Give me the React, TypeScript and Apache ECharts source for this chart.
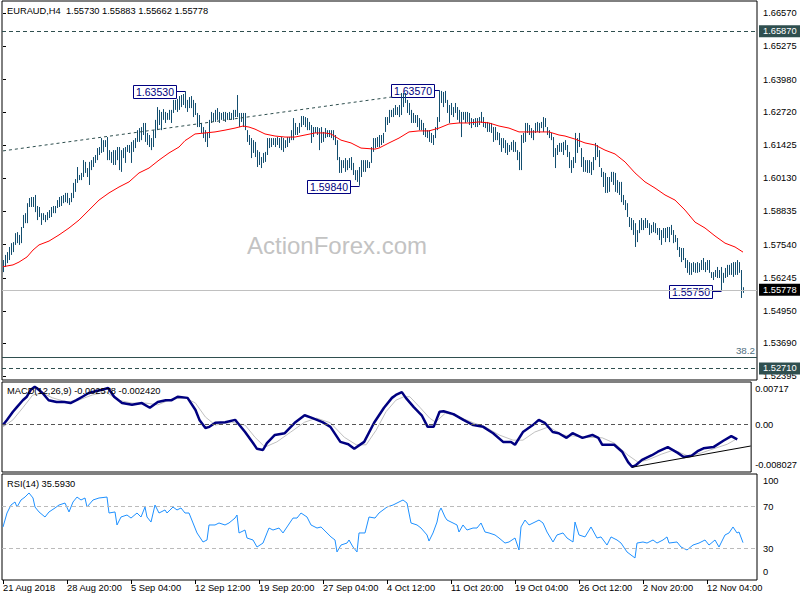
import React, { useEffect, useRef } from 'react';
import * as echarts from 'echarts';

// ---- Price bars (H4 EURAUD), high / low per bar ----
const HIGH = [
1.5694,1.5714,1.5725,1.5745,1.5760,1.5764,1.5799,1.5803,1.5792,1.5823,
1.5870,1.5877,1.5916,1.5936,1.5940,1.5940,1.5948,1.5905,1.5901,1.5877,
1.5877,1.5870,1.5881,1.5889,1.5901,1.5905,1.5905,1.5928,1.5940,1.5944,
1.5948,1.5956,1.5956,1.5936,1.5956,1.5995,1.6010,1.6057,1.6026,1.6034,
1.6084,1.6077,1.6053,1.6077,1.6084,1.6096,1.6104,1.6131,1.6135,1.6170,
1.6162,1.6162,1.6174,1.6123,1.6116,1.6123,1.6123,1.6135,1.6135,1.6123,
1.6131,1.6135,1.6143,1.6143,1.6155,1.6162,1.6170,1.6201,1.6209,1.6213,
1.6229,1.6229,1.6190,1.6182,1.6170,1.6201,1.6241,1.6291,1.6280,1.6272,
1.6283,1.6272,1.6268,1.6280,1.6280,1.6319,1.6319,1.6323,1.6334,1.6338,
1.6342,1.6353,1.6319,1.6330,1.6334,1.6319,1.6307,1.6268,1.6260,1.6229,
1.6213,1.6201,1.6190,1.6241,1.6272,1.6268,1.6280,1.6287,1.6272,1.6268,
1.6272,1.6272,1.6268,1.6272,1.6268,1.6280,1.6280,1.6338,1.6268,1.6268,
1.6268,1.6268,1.6201,1.6182,1.6170,1.6162,1.6155,1.6123,1.6116,1.6096,
1.6112,1.6116,1.6170,1.6170,1.6170,1.6170,1.6170,1.6174,1.6170,1.6174,
1.6170,1.6162,1.6174,1.6174,1.6201,1.6248,1.6229,1.6213,1.6229,1.6256,
1.6256,1.6252,1.6248,1.6233,1.6221,1.6213,1.6213,1.6213,1.6209,1.6213,
1.6194,1.6209,1.6201,1.6201,1.6201,1.6201,1.6182,1.6162,1.6096,1.6084,
1.6084,1.6092,1.6084,1.6092,1.6096,1.6073,1.6045,1.6045,1.6057,1.6084,
1.6084,1.6084,1.6084,1.6077,1.6135,1.6170,1.6170,1.6174,1.6182,1.6182,
1.6190,1.6252,1.6252,1.6280,1.6280,1.6287,1.6299,1.6291,1.6299,1.6346,
1.6346,1.6346,1.6319,1.6307,1.6280,1.6268,1.6260,1.6260,1.6248,1.6241,
1.6229,1.6209,1.6201,1.6201,1.6190,1.6182,1.6213,1.6252,1.6357,1.6354,
1.6350,1.6354,1.6319,1.6299,1.6307,1.6291,1.6307,1.6291,1.6280,1.6272,
1.6272,1.6272,1.6272,1.6268,1.6248,1.6244,1.6248,1.6248,1.6252,1.6272,
1.6252,1.6233,1.6233,1.6229,1.6229,1.6213,1.6213,1.6194,1.6190,1.6170,
1.6170,1.6162,1.6151,1.6143,1.6155,1.6162,1.6155,1.6123,1.6116,1.6182,
1.6190,1.6229,1.6229,1.6221,1.6209,1.6201,1.6229,1.6233,1.6229,1.6233,
1.6252,1.6248,1.6213,1.6201,1.6190,1.6174,1.6131,1.6143,1.6151,1.6151,
1.6155,1.6162,1.6143,1.6116,1.6084,1.6096,1.6190,1.6170,1.6190,1.6131,
1.6096,1.6084,1.6084,1.6084,1.6077,1.6096,1.6151,1.6143,1.6123,1.6053,
1.6038,1.6034,1.6018,1.6018,1.6038,1.6038,1.6034,1.6006,1.5999,1.5999,
1.5948,1.5928,1.5916,1.5862,1.5858,1.5850,1.5838,1.5811,1.5850,1.5858,
1.5850,1.5858,1.5850,1.5838,1.5831,1.5842,1.5838,1.5819,1.5819,1.5811,
1.5819,1.5819,1.5823,1.5823,1.5831,1.5811,1.5792,1.5780,1.5745,1.5741,
1.5741,1.5702,1.5694,1.5686,1.5682,1.5686,1.5682,1.5686,1.5682,1.5694,
1.5702,1.5686,1.5694,1.5694,1.5647,1.5647,1.5655,1.5667,1.5655,1.5667,
1.5644,1.5663,1.5675,1.5675,1.5682,1.5686,1.5686,1.5694,1.5686,1.5655,
1.5588
];
const LOW = [
1.5647,1.5667,1.5682,1.5694,1.5714,1.5725,1.5753,1.5760,1.5753,1.5760,
1.5819,1.5838,1.5838,1.5901,1.5901,1.5901,1.5881,1.5850,1.5862,1.5831,
1.5850,1.5842,1.5850,1.5858,1.5862,1.5877,1.5877,1.5897,1.5901,1.5905,
1.5916,1.5920,1.5916,1.5909,1.5920,1.5936,1.5960,1.5995,1.6006,1.6006,
1.6018,1.6034,1.6018,1.5987,1.6045,1.6057,1.6073,1.6084,1.6104,1.6112,
1.6116,1.6135,1.6084,1.6084,1.6073,1.6065,1.6065,1.6084,1.6045,1.6038,
1.6092,1.6073,1.6116,1.6112,1.6073,1.6116,1.6131,1.6155,1.6155,1.6162,
1.6182,1.6155,1.6143,1.6135,1.6123,1.6135,1.6170,1.6201,1.6221,1.6201,
1.6241,1.6229,1.6241,1.6241,1.6229,1.6268,1.6280,1.6272,1.6280,1.6291,
1.6299,1.6287,1.6272,1.6287,1.6287,1.6252,1.6260,1.6213,1.6213,1.6190,
1.6170,1.6155,1.6135,1.6170,1.6229,1.6233,1.6233,1.6241,1.6229,1.6241,
1.6241,1.6233,1.6241,1.6241,1.6241,1.6241,1.6252,1.6252,1.6213,1.6233,
1.6213,1.6201,1.6155,1.6143,1.6092,1.6112,1.6096,1.6057,1.6065,1.6053,
1.6073,1.6077,1.6104,1.6131,1.6135,1.6143,1.6135,1.6143,1.6131,1.6123,
1.6116,1.6131,1.6135,1.6151,1.6162,1.6162,1.6182,1.6182,1.6190,1.6213,
1.6221,1.6213,1.6201,1.6201,1.6151,1.6174,1.6190,1.6182,1.6123,1.6151,
1.6155,1.6170,1.6174,1.6174,1.6170,1.6162,1.6143,1.6084,1.6034,1.6034,
1.6053,1.6038,1.6045,1.6053,1.6045,1.6026,1.6006,1.5999,1.5984,1.6018,
1.6038,1.6038,1.6053,1.6053,1.6073,1.6116,1.6131,1.6135,1.6135,1.6143,
1.6151,1.6194,1.6221,1.6229,1.6252,1.6252,1.6260,1.6260,1.6252,1.6260,
1.6291,1.6307,1.6268,1.6260,1.6229,1.6229,1.6229,1.6213,1.6201,1.6201,
1.6182,1.6174,1.6170,1.6155,1.6151,1.6143,1.6170,1.6201,1.6233,1.6307,
1.6291,1.6307,1.6268,1.6229,1.6260,1.6252,1.6268,1.6241,1.6229,1.6174,
1.6241,1.6229,1.6233,1.6221,1.6209,1.6221,1.6213,1.6213,1.6221,1.6229,
1.6213,1.6209,1.6194,1.6194,1.6190,1.6155,1.6162,1.6162,1.6143,1.6116,
1.6131,1.6112,1.6104,1.6116,1.6123,1.6116,1.6116,1.6084,1.6045,1.6045,
1.6151,1.6155,1.6190,1.6182,1.6170,1.6162,1.6190,1.6194,1.6190,1.6209,
1.6194,1.6213,1.6182,1.6170,1.6162,1.6096,1.6053,1.6104,1.6116,1.6116,
1.6104,1.6123,1.6096,1.6053,1.6034,1.6053,1.6073,1.6112,1.6135,1.6057,
1.6038,1.6038,1.6034,1.6034,1.6026,1.6045,1.6084,1.6096,1.6057,1.6018,
1.5979,1.5956,1.5956,1.5960,1.5999,1.5987,1.5960,1.5956,1.5948,1.5920,
1.5909,1.5889,1.5862,1.5823,1.5811,1.5792,1.5745,1.5764,1.5799,1.5811,
1.5811,1.5819,1.5819,1.5792,1.5799,1.5803,1.5799,1.5792,1.5772,1.5753,
1.5780,1.5764,1.5780,1.5764,1.5792,1.5760,1.5764,1.5733,1.5706,1.5686,
1.5694,1.5663,1.5644,1.5636,1.5636,1.5647,1.5644,1.5644,1.5647,1.5655,
1.5655,1.5647,1.5655,1.5644,1.5624,1.5616,1.5628,1.5624,1.5624,1.5575,
1.5605,1.5624,1.5628,1.5636,1.5636,1.5628,1.5636,1.5636,1.5644,1.5546,
1.5566
];

// ---- Moving average (red), sampled [bar index, price] ----
const MA_POINTS = [
[0,1.5668],[5,1.5675],[8,1.5686],[12,1.5706],[15,1.5733],[18,1.5753],[23,1.5768],[28,1.5792],
[33,1.5819],[38,1.5850],[43,1.5889],[48,1.5928],[53,1.5956],[58,1.5979],[63,1.5999],[68,1.6034],
[73,1.6053],[78,1.6084],[83,1.6112],[88,1.6135],[91,1.6160],[93,1.6170],[96,1.6186],[101,1.6190],
[106,1.6194],[111,1.6201],[116,1.6209],[120,1.6217],[123,1.6213],[126,1.6205],[131,1.6186],[136,1.6178],
[141,1.6174],[146,1.6174],[151,1.6182],[156,1.6190],[161,1.6190],[164,1.6186],[169,1.6162],[174,1.6151],
[179,1.6131],[186,1.6127],[188,1.6131],[193,1.6151],[198,1.6170],[203,1.6194],[208,1.6198],[213,1.6198],
[218,1.6209],[223,1.6225],[228,1.6229],[233,1.6229],[238,1.6233],[243,1.6229],[248,1.6217],[253,1.6209],
[258,1.6194],[263,1.6194],[268,1.6194],[273,1.6194],[278,1.6182],[281,1.6178],[286,1.6166],[291,1.6151],
[296,1.6143],[301,1.6123],[306,1.6108],[311,1.6077],[316,1.6034],[321,1.5999],[326,1.5975],[331,1.5948],
[336,1.5928],[341,1.5889],[346,1.5842],[351,1.5819],[356,1.5788],[361,1.5760],[366,1.5745],[370,1.5725]
];

// ---- MACD(12,26,9): main and signal, sampled [bar index, value] ----
const MACD_MAIN = [
[0,-0.0001],[2,0.0008],[5,0.0022],[7,0.0030],[10,0.0042],[12,0.0048],[14,0.0060],[16,0.0065],[17,0.0063],
[20,0.0054],[23,0.0042],[27,0.0039],[31,0.0039],[34,0.0037],[37,0.0042],[40,0.0048],[43,0.0054],[47,0.0058],
[50,0.0060],[53,0.0063],[56,0.0048],[60,0.0037],[65,0.0034],[70,0.0037],[74,0.0029],[78,0.0039],[82,0.0042],
[85,0.0042],[88,0.0048],[93,0.0046],[97,0.0025],[99,0.0008],[102,-0.0006],[104,-0.0004],[107,0.0003],[112,0.0004],
[117,0.0008],[118,0.0004],[122,-0.0013],[126,-0.0032],[128,-0.0042],[131,-0.0044],[133,-0.0032],[137,-0.0018],
[142,-0.0015],[147,0.0003],[152,0.0016],[156,0.0011],[161,0.0004],[165,-0.0004],[170,-0.0030],[174,-0.0034],
[177,-0.0042],[182,-0.0030],[187,0.0003],[192,0.0029],[196,0.0046],[198,0.0051],[201,0.0056],[203,0.0046],
[207,0.0030],[211,0.0016],[214,-0.0004],[217,-0.0004],[220,0.0022],[222,0.0023],[227,0.0018],[232,0.0008],
[237,-0.0001],[242,-0.0004],[247,-0.0015],[252,-0.0030],[256,-0.0030],[258,-0.0035],[262,-0.0013],[267,-0.0001],
[270,0.0008],[273,0.0003],[277,-0.0013],[280,-0.0015],[284,-0.0023],[287,-0.0015],[292,-0.0023],[297,-0.0018],
[300,-0.0023],[302,-0.0035],[308,-0.0035],[312,-0.0047],[315,-0.0065],[317,-0.0073],[319,-0.0070],[322,-0.0061],
[327,-0.0053],[330,-0.0047],[335,-0.0039],[340,-0.0049],[343,-0.0056],[347,-0.0054],[350,-0.0046],[353,-0.0041],
[358,-0.0039],[363,-0.0028],[367,-0.0020],[370,-0.002578]
];
const MACD_SIGNAL = [
[0,-0.0004],[5,0.0008],[10,0.0029],[15,0.0051],[20,0.0054],[25,0.0046],[32,0.0039],[38,0.0042],[45,0.0051],
[52,0.0056],[58,0.0042],[65,0.0037],[72,0.0037],[78,0.0034],[85,0.0044],[92,0.0046],[97,0.0037],[102,0.0013],
[107,-0.0001],[115,0.0004],[122,-0.0001],[127,-0.0022],[132,-0.0039],[138,-0.0030],[145,-0.0013],[152,0.0004],
[158,0.0011],[165,0.0003],[172,-0.0022],[178,-0.0035],[183,-0.0035],[188,-0.0010],[193,0.0022],[198,0.0042],
[202,0.0048],[205,0.0048],[210,0.0030],[215,0.0011],[218,0.0004],[223,0.0020],[230,0.0013],[237,0.0003],
[243,-0.0004],[250,-0.0018],[257,-0.0027],[262,-0.0027],[268,-0.0013],[275,-0.0004],[282,-0.0018],[288,-0.0020],
[295,-0.0022],[302,-0.0023],[308,-0.0032],[315,-0.0053],[320,-0.0065],[325,-0.0061],[332,-0.0051],[338,-0.0044],
[345,-0.0054],[352,-0.0049],[358,-0.0042],[365,-0.0034],[370,-0.00242]
];

// ---- RSI(14), sampled [bar index, value] ----
const RSI_POINTS = [
[0,50.5],[2,63.8],[4,71.4],[6,74.3],[7,69.5],[9,76.2],[11,79],[13,82.9],[15,78.1],[16,69.5],[18,64.8],[21,60],
[23,64.8],[26,68.6],[28,71.4],[31,73.3],[33,64.8],[35,74.3],[37,79],[39,76.2],[41,78.1],[42,69.5],[45,76.2],
[48,78.1],[52,79],[53,63.8],[56,64.8],[57,52.4],[59,60],[62,61.9],[64,59],[67,63.8],[69,60],[71,69.5],[72,60],
[74,55.2],[76,71.4],[78,63.8],[81,66.7],[82,63.8],[85,69.5],[87,66.7],[89,68.6],[91,63.8],[93,63.8],[95,54.3],
[97,44.8],[100,36.2],[102,38.1],[103,52.4],[106,52.4],[108,54.3],[111,52.4],[113,54.3],[116,59],[117,61.9],
[118,44.8],[121,47.6],[122,40],[125,38.1],[127,31.4],[130,35.2],[132,44.8],[133,49.5],[135,47.6],[138,49.5],
[140,44.8],[142,50.5],[145,59],[147,59],[149,63.8],[152,60],[154,52.4],[157,49.5],[159,50.5],[162,44.8],[164,41],
[166,38.1],[167,26.7],[169,33.3],[172,35.2],[173,38.1],[175,31.4],[177,26.7],[178,44.8],[181,44.8],[183,60],
[186,59],[188,63.8],[192,69.5],[195,71.4],[198,74.3],[200,76.2],[202,73.3],[204,54.3],[207,52.4],[209,49.5],
[212,42.9],[213,37.1],[215,44.8],[217,55.2],[218,64.8],[219,68.6],[221,60],[222,57.1],[225,54.3],[227,52.4],
[228,45.7],[230,52.4],[232,47.6],[235,49.5],[237,49.5],[239,54.3],[241,45.7],[243,44.8],[246,42.9],[248,40],
[251,35.2],[253,36.2],[256,40],[258,28.6],[259,50.5],[261,57.1],[263,52.4],[266,55.2],[268,57.1],[270,54.3],
[272,45.7],[275,36.2],[277,42.9],[280,44.8],[282,40],[285,36.2],[286,55.2],[288,42.9],[291,41],[294,50.5],
[297,40],[299,41],[302,33.3],[304,41],[307,38.1],[309,35.2],[312,26.7],[314,23.8],[316,21],[317,35.2],[320,36.2],
[322,35.2],[325,38.1],[327,35.2],[330,38.1],[332,41],[333,35.2],[337,36.2],[339,31.4],[342,28.6],[345,33.3],
[348,35.2],[351,38.1],[353,33.3],[356,38.1],[358,31.4],[361,42.9],[363,44.8],[365,50.5],[367,44.8],[368,45.7],
[370,35.593]
];

// ---- Axes ----
const X_TICKS = [0, 32, 64, 96, 128, 160, 192, 224, 256, 288, 320, 352];
const X_LABELS = ['21 Aug 2018', '28 Aug 20:00', '5 Sep 04:00', '12 Sep 12:00', '19 Sep 20:00', '27 Sep 04:00',
  '4 Oct 12:00', '11 Oct 20:00', '19 Oct 04:00', '26 Oct 12:00', '2 Nov 20:00', '12 Nov 04:00'];
const PRICE_TICKS = [1.66570, 1.65275, 1.63980, 1.62720, 1.61425, 1.60130, 1.58835, 1.57540, 1.56245, 1.54950, 1.53690, 1.52395];

// ---- Annotations ----
const PRICE_LABELS = [
  { i: 91, price: 1.63530, text: '1.63530', gap: 9 },
  { i: 218, price: 1.63570, text: '1.63570', gap: 5 },
  { i: 178, price: 1.59840, text: '1.59840', gap: 9 },
  { i: 359, price: 1.55750, text: '1.55750', gap: 9 },
];
const RESIST_LEVEL = 1.65870;
const SUPPORT_LEVEL = 1.52710;
const FIBO_LEVEL = 1.53155;
const LAST_PRICE = 1.55778;
const TREND_LINE = [[0, 1.6120], [196, 1.6332]];
const MACD_TREND = [[316.8, -0.00739], [376.8, -0.00371]];
const MACD_MAX = 0.00717;
const MACD_MIN = -0.008027;

const FONT = '"Liberation Sans", Arial, sans-serif';
const FS = 9.3;
const BAR_COLOR = '#134e6f';
const SLATE = '#2f4f4f';
const NAVY = '#000080';

export default function App() {
  const ref = useRef<HTMLDivElement>(null);

  useEffect(() => {
    if (!ref.current) return;
    const chart = echarts.init(ref.current, undefined, { renderer: 'svg' });

    const bars = HIGH.map((h, i) => [i, h, LOW[i]]);
    const txt = { fontSize: FS, fontFamily: FONT, color: '#000' };

    const xAxes = [0, 1, 2].map((g) => ({
      type: 'value', gridIndex: g, min: -0.5, max: 377, show: g === 2,
      axisLine: { show: false }, splitLine: { show: false },
      axisTick: { show: g === 2, customValues: X_TICKS, length: 4, lineStyle: { color: '#000' } },
      axisLabel: {
        show: g === 2, customValues: X_TICKS, align: 'left', margin: 3, ...txt,
        formatter: (v: number) => { const k = X_TICKS.indexOf(Math.round(v)); return k >= 0 ? X_LABELS[k] : ''; },
      },
    }));

    // MACD panel: 0.00717 at 1px below top, -0.008027 at 1px above bottom (88px span)
    const macdPx = (MACD_MAX - MACD_MIN) / 88;
    const macdTicks = [MACD_MAX - 6 * macdPx, 0, MACD_MIN + 6 * macdPx];
    const rsiTicks = [100 - 6 / 1.05, 70, 30, 8 / 1.05];

    const option: any = {
      animation: false,
      backgroundColor: '#fff',
      grid: [
        { left: 2, top: 1, width: 755, height: 379, show: true, borderColor: '#000', borderWidth: 1 },
        { left: 2, top: 382, width: 755, height: 90, show: true, borderColor: '#000', borderWidth: 1 },
        { left: 2, top: 474, width: 755, height: 106, show: true, borderColor: '#000', borderWidth: 1 },
      ],
      xAxis: xAxes,
      yAxis: [
        {
          type: 'value', gridIndex: 0, position: 'right', min: 1.52258, max: 1.67050, scale: true,
          splitLine: { show: false }, axisLine: { show: false },
          axisTick: { show: true, customValues: PRICE_TICKS, length: 3, lineStyle: { color: '#000' } },
          axisLabel: { customValues: PRICE_TICKS, margin: 6, ...txt, formatter: (v: number) => v.toFixed(5) },
        },
        {
          type: 'value', gridIndex: 1, position: 'right', min: MACD_MIN - macdPx, max: MACD_MAX + macdPx, scale: true,
          splitLine: { show: false }, axisLine: { show: false },
          axisTick: { show: true, customValues: [0], length: 3, lineStyle: { color: '#000' } },
          axisLabel: {
            customValues: macdTicks, margin: 4, ...txt,
            formatter: (v: number) => (v > 0.001 ? MACD_MAX.toFixed(5) : v < -0.001 ? MACD_MIN.toFixed(6) : '0.00'),
          },
        },
        {
          type: 'value', gridIndex: 2, position: 'right', min: 0, max: 100 + 1 / 1.05,
          splitLine: { show: false }, axisLine: { show: false },
          axisTick: { show: true, customValues: [70, 30], length: 3, lineStyle: { color: '#000' } },
          axisLabel: {
            customValues: rsiTicks, margin: 6, ...txt,
            formatter: (v: number) => (v > 90 ? '100' : v < 10 ? '0' : String(Math.round(v))),
          },
        },
      ],
      series: [
        {
          type: 'custom', name: 'EURAUD', xAxisIndex: 0, yAxisIndex: 0, data: bars,
          encode: { x: 0, y: [1, 2] }, z: 3,
          renderItem: (_p: any, api: any) => {
            const x = api.value(0);
            const hi = api.coord([x, api.value(1)]);
            const lo = api.coord([x, api.value(2)]);
            const px = Math.round(hi[0]) + 0.5;
            return { type: 'line', shape: { x1: px, y1: hi[1], x2: px, y2: lo[1] }, style: { stroke: BAR_COLOR, lineWidth: 1 } };
          },
        },
        {
          type: 'line', name: 'MA', xAxisIndex: 0, yAxisIndex: 0, data: MA_POINTS, showSymbol: false, symbol: 'none',
          lineStyle: { color: '#ff0000', width: 1 }, z: 4, silent: true,
          markLine: {
            symbol: ['none', 'none'], silent: true, animation: false, precision: 6,
            data: [
              { yAxis: RESIST_LEVEL, lineStyle: { color: SLATE, type: [4, 3], width: 1 },
                label: { show: true, position: 'end', distance: 2, formatter: RESIST_LEVEL.toFixed(5), backgroundColor: SLATE, color: '#fff', padding: [2, 4, 1, 4], fontSize: FS, fontFamily: FONT } },
              { yAxis: SUPPORT_LEVEL, lineStyle: { color: SLATE, type: [4, 3], width: 1 },
                label: { show: true, position: 'end', distance: 2, formatter: SUPPORT_LEVEL.toFixed(5), backgroundColor: SLATE, color: '#fff', padding: [2, 4, 1, 4], fontSize: FS, fontFamily: FONT } },
              { yAxis: LAST_PRICE, lineStyle: { color: '#c0c0c0', type: 'solid', width: 1 },
                label: { show: true, position: 'end', distance: 2, formatter: LAST_PRICE.toFixed(5), backgroundColor: '#000', color: '#fff', padding: [2, 4, 1, 4], fontSize: FS, fontFamily: FONT } },
              { yAxis: FIBO_LEVEL, lineStyle: { color: SLATE, type: 'solid', width: 1 },
                label: { show: true, position: 'insideEndTop', distance: 2, formatter: '38.2', color: '#4f6f7f', fontSize: FS + 0.5, fontFamily: FONT } },
              [
                { coord: TREND_LINE[0], lineStyle: { color: SLATE, type: [3, 3], width: 1 }, label: { show: false } },
                { coord: TREND_LINE[1] },
              ],
            ],
          },
        },
        {
          type: 'line', name: 'Signal', xAxisIndex: 1, yAxisIndex: 1, data: MACD_SIGNAL, showSymbol: false, symbol: 'none',
          lineStyle: { color: '#c0c0c0', width: 1 }, z: 3, silent: true,
          markLine: {
            symbol: ['none', 'none'], silent: true, animation: false, precision: 6,
            data: [
              { yAxis: 0, lineStyle: { color: '#555', type: [4, 3], width: 1 }, label: { show: false } },
              [
                { coord: MACD_TREND[0], lineStyle: { color: '#000', type: 'solid', width: 1 }, label: { show: false } },
                { coord: MACD_TREND[1] },
              ],
            ],
          },
        },
        {
          type: 'line', name: 'MACD', xAxisIndex: 1, yAxisIndex: 1, data: MACD_MAIN, showSymbol: false, symbol: 'none',
          lineStyle: { color: NAVY, width: 2.5 }, z: 4, silent: true,
        },
        {
          type: 'line', name: 'RSI', xAxisIndex: 2, yAxisIndex: 2, data: RSI_POINTS, showSymbol: false, symbol: 'none',
          lineStyle: { color: '#1e90ff', width: 1 }, z: 3, silent: true,
          markLine: {
            symbol: ['none', 'none'], silent: true, animation: false, precision: 4,
            data: [
              { yAxis: 70, lineStyle: { color: '#bbbbbb', type: [4, 3], width: 1 }, label: { show: false } },
              { yAxis: 30, lineStyle: { color: '#bbbbbb', type: [4, 3], width: 1 }, label: { show: false } },
            ],
          },
        },
      ],
    };

    chart.setOption(option);

    const graphics: any[] = [
      { type: 'text', x: 337, y: 245, z: 0, silent: true,
        style: { text: 'ActionForex.com', fontSize: 24, fontFamily: FONT, fill: '#c3c3c3', align: 'center', verticalAlign: 'middle' } },
      { type: 'text', x: 7, y: 10.5, z: 10, silent: true,
        style: { text: 'EURAUD,H4\u00a0 1.55730 1.55883 1.55662 1.55778', fontSize: FS, fontFamily: FONT, fill: '#000', verticalAlign: 'middle' } },
      { type: 'text', x: 7, y: 391, z: 10, silent: true,
        style: { text: 'MACD(12,26,9) -0.002578 -0.002420', fontSize: FS, fontFamily: FONT, fill: '#000', verticalAlign: 'middle' } },
      { type: 'text', x: 7, y: 484, z: 10, silent: true,
        style: { text: 'RSI(14) 35.5930', fontSize: FS, fontFamily: FONT, fill: '#000', verticalAlign: 'middle' } },
    ];

    PRICE_LABELS.forEach((l) => {
      const p = chart.convertToPixel({ xAxisIndex: 0, yAxisIndex: 0 }, [l.i, l.price]) as number[];
      const px = Math.round(p[0]) + 0.5;
      const py = Math.round(p[1]) + 0.5;
      const w = 43, h = 13;
      const right = px - l.gap;
      const left = right - w;
      graphics.push({
        type: 'group', z: 20, silent: true,
        children: [
          { type: 'line', shape: { x1: right, y1: py, x2: px, y2: py }, style: { stroke: NAVY, lineWidth: 1 } },
          { type: 'rect', shape: { x: left, y: py - 6, width: w, height: h }, style: { fill: '#fff', stroke: NAVY, lineWidth: 1 } },
          { type: 'text', x: left + w / 2, y: py + 0.5,
            style: { text: l.text, fontSize: 10.5, fontFamily: FONT, fill: NAVY, align: 'center', verticalAlign: 'middle' } },
        ],
      });
    });

    chart.setOption({ graphic: graphics });

    return () => chart.dispose();
  }, []);

  return <div ref={ref} style={{ position: 'fixed', left: 0, top: 0, width: 800, height: 600, background: '#fff' }} />;
}
